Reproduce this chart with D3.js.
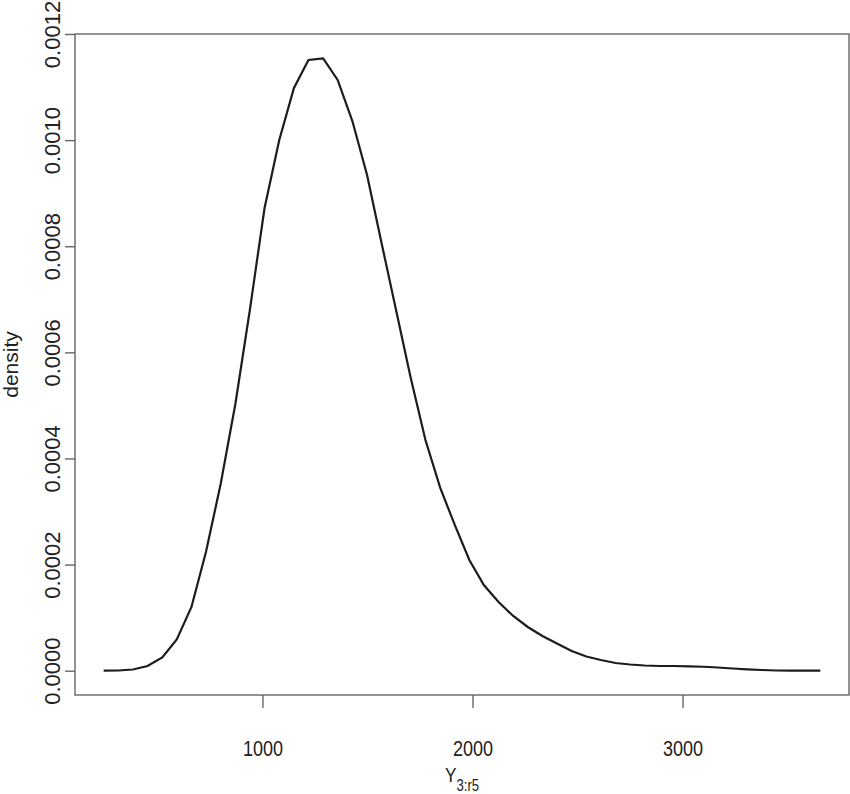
<!DOCTYPE html>
<html>
<head>
<meta charset="utf-8">
<script src="https://cdn.jsdelivr.net/npm/d3@7"></script>
<style>
  html, body { margin: 0; padding: 0; background: #fff; }
  svg { display: block; }
  text { font-family: "Liberation Sans", Arial, Helvetica, sans-serif; fill: #222; }
</style>
</head>
<body>
<svg id="chart" width="850" height="794"></svg>
<script>
// Density curve points
const xValues = [244, 314, 383, 453, 523, 592, 662, 731, 801, 871,
                 940, 1010, 1080, 1150, 1219, 1289, 1358, 1428, 1498, 1567,
                 1637, 1706, 1776, 1846, 1915, 1985, 2054, 2124, 2194, 2263,
                 2333, 2402, 2472, 2542, 2611, 2681, 2750, 2820, 2890, 2960,
                 3029, 3099, 3168, 3238, 3308, 3377, 3447, 3516, 3586, 3656];
const densityValues = [0.0000000, 0.0000004, 0.0000023, 0.0000089, 0.0000249,
                       0.0000588, 0.0001201, 0.0002237, 0.0003519, 0.0005027,
                       0.0006798, 0.0008721, 0.0010002, 0.0010982, 0.0011510,
                       0.0011542, 0.0011133, 0.0010360, 0.0009342, 0.0008061,
                       0.0006779, 0.0005516, 0.0004348, 0.0003450, 0.0002752,
                       0.0002086, 0.0001615, 0.0001295, 0.0001031, 0.0000824,
                       0.0000654, 0.0000513, 0.0000371, 0.0000268, 0.0000202,
                       0.0000145, 0.0000117, 0.0000098, 0.0000089, 0.0000089,
                       0.0000083, 0.0000074, 0.0000060, 0.0000041, 0.0000026,
                       0.0000013, 0.0000004, 0.0000000, 0.0000000, 0.0000000];
const xTicks = [1000, 2000, 3000];
const yTicks = [0, 0.0002, 0.0004, 0.0006, 0.0008, 0.0010, 0.0012];
const xLabelMain = "Y";
const xLabelSub = "3:r5";
const yLabel = "density";

(function () {
const svg = d3.select("#chart");
const mLeft = 75, mRight = 849, mTop = 34, mBottom = 695;

const x = d3.scaleLinear().domain([107.5, 3792.5]).range([mLeft, mRight]);
const y = d3.scaleLinear().domain([-0.0000458, 0.0012]).range([mBottom, mTop]);

const data = xValues.map((v, i) => ({x: v, y: densityValues[i]}));

// curve
svg.append("path")
  .datum(data)
  .attr("fill", "none")
  .attr("stroke", "#1c1c1c")
  .attr("stroke-width", 2.2)
  .attr("stroke-linejoin", "miter")
  .attr("d", d3.line().x(d => x(d.x)).y(d => y(d.y)));

// frame
svg.append("rect")
  .attr("x", mLeft).attr("y", mTop)
  .attr("width", mRight - mLeft).attr("height", mBottom - mTop)
  .attr("fill", "none")
  .attr("stroke", "#666")
  .attr("stroke-width", 1.4);

// x axis
const gx = svg.append("g")
  .attr("transform", `translate(0,${mBottom})`)
  .call(d3.axisBottom(x).tickValues(xTicks).tickSize(13).tickFormat(d3.format("d")));
gx.select(".domain").remove();
gx.selectAll(".tick line").attr("stroke", "#666").attr("stroke-width", 1.4);
gx.selectAll(".tick text")
  .attr("y", 61).attr("dy", null)
  .attr("transform", "scale(0.82,1)")
  .style("font-size", "22px")
  .attr("fill", "#222");

// y axis
const gy = svg.append("g")
  .attr("transform", `translate(${mLeft},0)`)
  .call(d3.axisLeft(y).tickValues(yTicks).tickSize(10).tickFormat(d3.format(".4f")));
gy.select(".domain").remove();
gy.selectAll(".tick line").attr("stroke", "#666").attr("stroke-width", 1.4);
gy.selectAll(".tick text")
  .attr("x", 0).attr("y", 0).attr("dy", null)
  .attr("text-anchor", "middle")
  .attr("transform", "translate(-15,0) rotate(-90)")
  .style("font-size", "22px")
  .attr("fill", "#222");

// x label with subscript
const xl = svg.append("g")
  .attr("transform", `translate(${(mLeft + mRight) / 2},782) scale(0.82,1)`)
  .append("text")
  .attr("text-anchor", "middle");
xl.append("tspan").style("font-size", "21px").text(xLabelMain);
xl.append("tspan").style("font-size", "16px").attr("dy", 9).text(xLabelSub);

// y label
svg.append("text")
  .attr("transform", `translate(18,${(mTop + mBottom) / 2}) rotate(-90)`)
  .attr("text-anchor", "middle")
  .style("font-size", "21px")
  .text(yLabel);
})();
</script>
</body>
</html>
